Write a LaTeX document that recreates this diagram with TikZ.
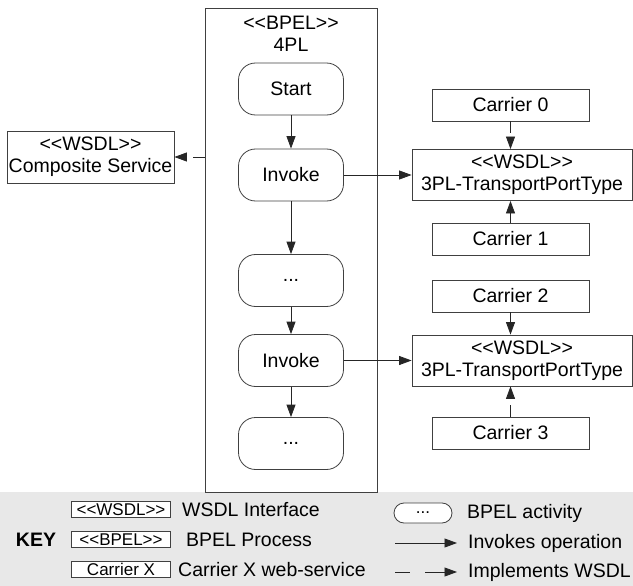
\documentclass[tikz,border=0pt]{standalone}
\usepackage{fontspec}
\setmainfont{Liberation Sans}
\usepackage{tikz}
\usetikzlibrary{arrows.meta}
\usetikzlibrary{positioning}

\newcommand{\stereo}[1]{<{}<#1>{}>}

\tikzset{
  box/.style={rectangle, draw=black!75, line width=0.8pt, inner sep=0pt},
  activity/.style={box, rounded corners=17pt, minimum width=105pt, minimum height=52pt},
  wsdl/.style={box, fill=white, minimum width=220pt, minimum height=51pt, align=center},
  carrier/.style={box, minimum width=157pt, minimum height=32pt},
  keybox/.style={box, fill=white, minimum width=99pt, minimum height=15.5pt, font=\fontsize{17}{19}\selectfont},
  keylabel/.style={anchor=west, inner sep=0pt},
  invokes/.style={-{Triangle[length=12.5pt,width=9pt]}, draw=black!85, line width=0.8pt},
  implements/.style={invokes, dash pattern=on 12pt off 7pt}
}

\begin{document}
\begin{tikzpicture}[x=1pt, y=-1pt, font=\fontsize{19.5}{22}\selectfont]
\useasboundingbox (0, 0) rectangle (633, 586);
\fill [black!9] (0, 492) rectangle (633, 586);

% BPEL process
\node [box, minimum width=172pt, minimum height=484pt] (proc) at (291, 250) {};
\node [align=center] (proctitle) at (291, 33.5) {\stereo{BPEL}\\4PL};
\node [activity] (start) at (291, 89) {Start};
\node [activity] (inv1) at (291, 175) {Invoke};
\node [activity] (dots1) at (291, 280.5) {...};
\node [activity] (inv2) at (291, 360.5) {Invoke};
\node [activity] (dots2) at (291, 443.5) {...};
\draw [invokes] (start) -- (inv1);
\draw [invokes] (inv1) -- (dots1);
\draw [invokes] (dots1) -- (inv2);
\draw [invokes] (inv2) -- (dots2);

\node [box, minimum width=167pt, minimum height=52pt, align=center] (comp) at (90.5, 157) {\stereo{WSDL}\\Composite Service};
\draw [implements] (proc.west |- comp) -- (comp);

% carriers
\node [wsdl] (tpl1) at (522, 175) {\stereo{WSDL}\\3PL-TransportPortType};
\node [wsdl] (tpl2) at (522, 360.5) {\stereo{WSDL}\\3PL-TransportPortType};
\node [carrier] (c0) at (510.5, 105) {Carrier 0};
\node [carrier] (c1) at (510.5, 239) {Carrier 1};
\node [carrier] (c2) at (510.5, 296) {Carrier 2};
\node [carrier] (c3) at (510.5, 433) {Carrier 3};
\draw [invokes] (inv1) -- (tpl1);
\draw [invokes] (inv2) -- (tpl2);
\draw [implements] (c0) -- (c0 |- tpl1.north);
\draw [implements] (c1) -- (c1 |- tpl1.south);
\draw [implements] (c2) -- (c2 |- tpl2.north);
\draw [implements] (c3) -- (c3 |- tpl2.south);

% key
\node [font=\fontsize{19.5}{22}\selectfont\bfseries] (keytitle) at (36, 540) {KEY};
\node [keybox] (kwsdl) at (121, 509.5) {\stereo{WSDL}};
\node [keybox] (kbpel) at (121, 539.5) {\stereo{BPEL}};
\node [keybox] (kcarrier) at (121, 569.5) {Carrier X};
\node [keylabel] (lwsdl) at (182, 510) {WSDL Interface};
\node [keylabel] (lbpel) at (186, 540) {BPEL Process};
\node [keylabel] (lcarrier) at (178, 570) {Carrier X web-service};

\node [box, fill=white, rounded corners=10pt, minimum width=58pt, minimum height=20pt, font=\fontsize{17}{19}\selectfont] (kact) at (423, 513) {...};
\node [keylabel] (lact) at (467, 513) {BPEL activity};
\coordinate (kinvA) at (395, 543);
\coordinate (kinvB) at (457, 543);
\draw [invokes] (kinvA) -- (kinvB);
\node [keylabel] (linv) at (468, 543) {Invokes operation};
\coordinate (kimpA) at (395, 572);
\coordinate (kimpB) at (457, 572);
\draw [invokes, dash pattern=on 15pt off 15pt on 30pt] (kimpA) -- (kimpB);
\node [keylabel] (limp) at (468, 572) {Implements WSDL};
\end{tikzpicture}
\end{document}
